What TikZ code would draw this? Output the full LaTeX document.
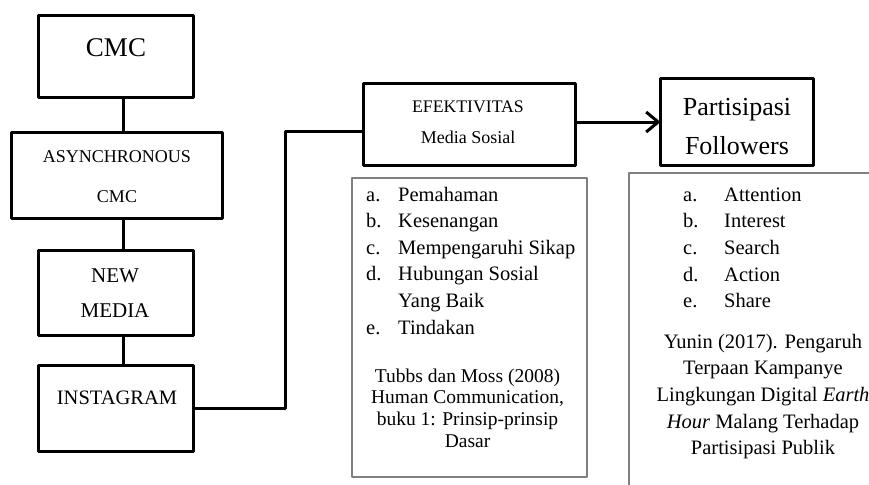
\documentclass[tikz,border=0pt]{standalone}
\usepackage{fontspec}
\setmainfont{Liberation Serif}
\usetikzlibrary{arrows.meta}
\newcommand\fsz[2]{\fontsize{#1}{#2}\selectfont}
\begin{document}
\begin{tikzpicture}[x=1pt, y=-1pt, line join=round, line cap=round]
	\tikzset{box/.style={draw, line width=3pt, inner sep=0pt, outer sep=0pt},
		note/.style={draw=gray, line width=1.5pt, inner sep=0pt, outer sep=0pt},
		link/.style={line width=3pt},
		txt/.style={inner sep=0pt, anchor=base}}
	\useasboundingbox (0,0) rectangle (869,484);
	\clip (0,0) rectangle (869,484);
	% kotak
	\node[box, minimum width=155pt, minimum height=82pt] (cmc) at (116,56.5) {};
	\node[box, minimum width=211pt, minimum height=86pt] (async) at (117,175.5) {};
	\node[box, minimum width=155pt, minimum height=85pt] (newmedia) at (116,293) {};
	\node[box, minimum width=155pt, minimum height=86pt] (insta) at (116,408.5) {};
	\node[box, minimum width=212pt, minimum height=82pt] (efek) at (469.5,124.5) {};
	\node[box, minimum width=153pt, minimum height=87pt] (partis) at (737,122) {};
	\node[note, minimum width=235pt, minimum height=299pt] (ketA) at (469.5,327.5) {};
	\node[note, minimum width=261pt, minimum height=322pt] (ketB) at (759.5,334) {};
	% teks
	\node[txt, font=\fsz{27}{30}] (tcmc) at (116,57) {CMC};
	\node[txt, font=\fsz{18}{20}] (tasync1) at (117,162) {ASYNCHRONOUS};
	\node[txt, font=\fsz{18}{20}] (tasync2) at (117,202) {CMC};
	\node[txt, font=\fsz{21}{24}] (tnew1) at (115,282) {NEW};
	\node[txt, font=\fsz{21}{24}] (tnew2) at (115,317) {MEDIA};
	\node[txt, font=\fsz{20.5}{24}] (tinsta) at (117,404) {INSTAGRAM};
	\node[txt, font=\fsz{17.7}{20}] (tefek1) at (468,113) {EFEKTIVITAS};
	\node[txt, font=\fsz{18}{20}] (tefek2) at (468,143) {Media Sosial};
	\node[txt, font=\fsz{26}{30}] (tpart1) at (737,115) {Partisipasi};
	\node[txt, font=\fsz{26}{30}] (tpart2) at (737,154) {Followers};
	\foreach \l/\t [count=\i] in {a./Pemahaman, b./Kesenangan, c./Mempengaruhi Sikap, d./Hubungan Sosial, /Yang Baik, e./Tindakan}{
		\node[txt, anchor=base west, font=\fsz{20.5}{24}] (la\i) at (366,{174.4+26.6*\i}) {\l};
		\node[txt, anchor=base west, font=\fsz{20.5}{24}] (ta\i) at (398,{174.4+26.6*\i}) {\t};
	}
	\foreach \l/\t [count=\i] in {a./Attention, b./Interest, c./Search, d./Action, e./Share}{
		\node[txt, anchor=base west, font=\fsz{20.5}{24}] (lb\i) at (683,{174.4+26.7*\i}) {\l};
		\node[txt, anchor=base west, font=\fsz{20.5}{24}] (tb\i) at (724,{174.4+26.7*\i}) {\t};
	}
	\foreach \t [count=\i] in {Tubbs dan Moss (2008), {Human Communication,}, buku 1: Prinsip-prinsip, Dasar}
		\node[txt, font=\fsz{19.5}{22}] (sa\i) at (467.5,{360.3+21.7*\i}) {\t};
	\foreach \t [count=\i] in {Yunin (2017). Pengaruh, Terpaan Kampanye, Lingkungan Digital \textit{Earth}, \textit{Hour} Malang Terhadap, Partisipasi Publik}
		\node[txt, font=\fsz{20.5}{24}] (sb\i) at (763,{321.3+26.7*\i}) {\t};
	% garis
	\coordinate (siku) at (285,131);
	\coordinate (tulang) at (123,0);
	\foreach \a/\b in {cmc/async, async/newmedia, newmedia/insta}
		\draw[link] (\a.south -| tulang) -- (\b.north -| tulang);
	\draw[link] (insta.east) -| (siku) -- (siku -| efek.west);
	\draw[link, -{Straight Barb[length=12pt, width=20pt]}] (efek.east |- partis.west) -- (partis.west);
\end{tikzpicture}
\end{document}
